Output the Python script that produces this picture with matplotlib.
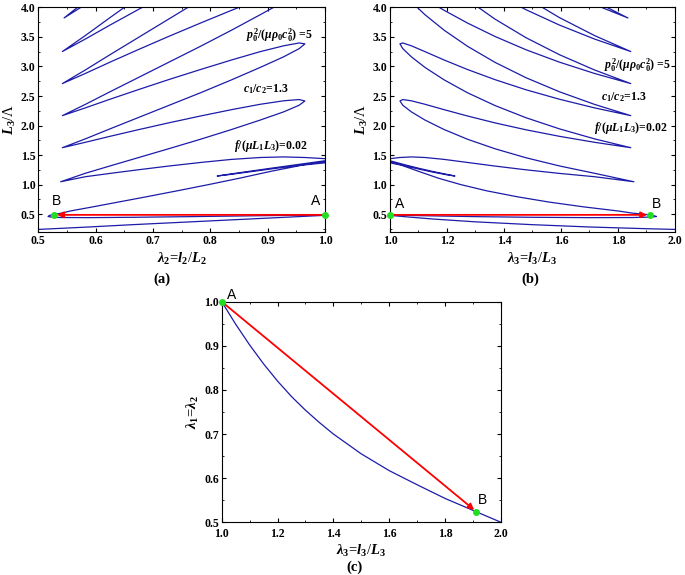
import matplotlib
matplotlib.use('Agg')
import matplotlib.pyplot as plt
from matplotlib.ticker import MultipleLocator

# curve: stretch lam3, matching lam2 and L3/Lambda
lam3 = [2.05, 1.9, 1.7, 1.5, 1.3, 1.15, 1.05, 1.0, 0.985,
        0.985, 1.0, 1.1, 1.3, 1.5, 1.7, 1.85, 1.91, 1.935,
        1.925, 1.912, 1.85, 1.8, 1.68, 1.56, 1.45, 1.34, 1.25, 1.17, 1.1, 1.04, 1.0, 0.985,
        0.985, 1.0, 1.05, 1.1, 1.15, 1.2, 1.228, 1.2, 1.15, 1.1, 1.05, 1.0, 0.985,
        0.985, 1.0, 1.035, 1.075, 1.123, 1.19, 1.272, 1.369, 1.477, 1.595, 1.718, 1.856,
        1.718, 1.595, 1.477, 1.369, 1.272, 1.19, 1.123, 1.075, 1.045, 1.035,
        1.045, 1.075, 1.123, 1.19, 1.272, 1.369, 1.477, 1.595, 1.718, 1.845,
        1.718, 1.595, 1.477, 1.369, 1.272, 1.19, 1.123, 1.075, 1.045, 1.035,
        1.045, 1.075, 1.123, 1.19, 1.272, 1.369, 1.477, 1.595, 1.718, 1.845,
        1.718, 1.595, 1.477, 1.369, 1.272, 1.19, 1.123, 1.075, 1.045,
        1.075, 1.123, 1.19, 1.272, 1.369, 1.477, 1.595, 1.718, 1.845,
        1.718, 1.595, 1.477, 1.369, 1.272,
        1.369, 1.477, 1.595, 1.718, 1.845,
        1.718, 1.595, 1.477,
        1.595, 1.718, 1.835, 1.718]

lam2 = [0.488, 0.527, 0.588, 0.664, 0.765, 0.866, 0.951, 1.0, 1.015,
        1.015, 1.0, 0.906, 0.765, 0.664, 0.588, 0.541, 0.524, 0.517,
        0.519, 0.523, 0.541, 0.556, 0.595, 0.639, 0.687, 0.742, 0.796, 0.851, 0.906, 0.96, 1.0, 1.015,
        1.015, 1.0, 0.951, 0.906, 0.866, 0.83, 0.812, 0.83, 0.866, 0.906, 0.951, 1.0, 1.015,
        1.015, 1.0, 0.965, 0.928, 0.887, 0.837, 0.783, 0.727, 0.674, 0.625, 0.582, 0.539,
        0.582, 0.625, 0.674, 0.727, 0.783, 0.837, 0.887, 0.928, 0.955, 0.965,
        0.955, 0.928, 0.887, 0.837, 0.783, 0.727, 0.674, 0.625, 0.582, 0.542,
        0.582, 0.625, 0.674, 0.727, 0.783, 0.837, 0.887, 0.928, 0.955, 0.965,
        0.955, 0.928, 0.887, 0.837, 0.783, 0.727, 0.674, 0.625, 0.582, 0.542,
        0.582, 0.625, 0.674, 0.727, 0.783, 0.837, 0.887, 0.928, 0.955,
        0.928, 0.887, 0.837, 0.783, 0.727, 0.674, 0.625, 0.582, 0.542,
        0.582, 0.625, 0.674, 0.727, 0.783,
        0.727, 0.674, 0.625, 0.582, 0.542,
        0.582, 0.625, 0.674,
        0.625, 0.582, 0.545, 0.582]

ratio = [0.238, 0.256, 0.285, 0.324, 0.372, 0.42, 0.46, 0.482, 0.488,
         0.492, 0.49, 0.477, 0.46, 0.449, 0.443, 0.445, 0.452, 0.462,
         0.478, 0.49, 0.52, 0.556, 0.625, 0.705, 0.793, 0.896, 1.0, 1.11, 1.227, 1.33, 1.37, 1.38,
         1.385, 1.39, 1.322, 1.266, 1.213, 1.167, 1.147, 1.174, 1.224, 1.279, 1.34, 1.405, 1.42,
         1.43, 1.44, 1.46, 1.47, 1.46, 1.428, 1.376, 1.315, 1.252, 1.191, 1.135, 1.05,
         1.193, 1.317, 1.456, 1.607, 1.769, 1.933, 2.093, 2.232, 2.344, 2.416,
         2.44, 2.419, 2.36, 2.269, 2.162, 2.045, 1.929, 1.818, 1.717, 1.626,
         1.775, 1.944, 2.133, 2.338, 2.555, 2.773, 2.983, 3.163, 3.301, 3.382,
         3.397, 3.349, 3.25, 3.109, 2.948, 2.776, 2.606, 2.445, 2.299, 2.168,
         2.358, 2.571, 2.81, 3.068, 3.341, 3.613, 3.874, 4.093, 4.258,
         4.279, 4.141, 3.949, 3.734, 3.506, 3.283, 3.072, 2.881, 2.71,
         2.94, 3.198, 3.487, 3.799, 4.128,
         4.237, 3.96, 3.699, 3.463, 3.252,
         3.522, 3.825, 4.164,
         4.326, 4.046, 3.82, 4.104]

# panel (c): lam1 = lam2 against lam3
lam3_c = [1.0, 1.05, 1.1, 1.15, 1.2, 1.25, 1.3, 1.35, 1.4, 1.5, 1.6, 1.7, 1.8, 1.9, 2.0]
lam2_c = [1.0, 0.949, 0.902, 0.859, 0.82, 0.785, 0.754, 0.726, 0.70, 0.655, 0.617, 0.585, 0.554, 0.527, 0.5]

# states A and B
point_a = {'a': (1.0, 0.49), 'b': (1.0, 0.49), 'c': (1.0, 1.0)}
point_b = {'a': (0.528, 0.49), 'b': (1.912, 0.49), 'c': (1.912, 0.524)}

notes = [r'$p_0^2/(\mu\rho_0c_0^2)$ =5', r'$c_1/c_2$=1.3', r'$f/(\mu L_1L_3)$=0.02']

plt.rcParams['font.family'] = 'Liberation Serif'
plt.rcParams['font.weight'] = 'bold'
plt.rcParams['mathtext.fontset'] = 'custom'
plt.rcParams['mathtext.rm'] = 'Liberation Serif:bold'
plt.rcParams['mathtext.it'] = 'Liberation Serif:italic:bold'
plt.rcParams['mathtext.bf'] = 'Liberation Serif:bold'
plt.rcParams['xtick.direction'] = 'in'
plt.rcParams['ytick.direction'] = 'in'
plt.rcParams['xtick.top'] = True
plt.rcParams['ytick.right'] = True

blue = '#1c1ca8'
green = '#22dd22'

fig = plt.figure(figsize=(6.85, 5.75), dpi=100)
ax_a = fig.add_axes([0.0559, 0.5965, 0.4185, 0.3908])
ax_b = fig.add_axes([0.5693, 0.5965, 0.416, 0.3908])
ax_c = fig.add_axes([0.3236, 0.0917, 0.4077, 0.3837])


def style(ax, xmaj, ymaj):
    ax.xaxis.set_major_locator(MultipleLocator(xmaj))
    ax.xaxis.set_minor_locator(MultipleLocator(xmaj / 2))
    ax.yaxis.set_major_locator(MultipleLocator(ymaj))
    ax.yaxis.set_minor_locator(MultipleLocator(ymaj / 2))
    ax.xaxis.set_major_formatter('{x:.1f}')
    ax.yaxis.set_major_formatter('{x:.1f}')
    ax.tick_params(which='major', length=3, width=0.8, labelsize=8.5, pad=2)
    ax.tick_params(which='minor', length=1.5, width=0.6)
    for sp in ax.spines.values():
        sp.set_linewidth(0.8)


def arrow(ax, key, textpos_a, textpos_b):
    ax.annotate('', xy=point_b[key], xytext=point_a[key],
                arrowprops=dict(arrowstyle='-|>', color='red', lw=1.3,
                                mutation_scale=9, shrinkA=0, shrinkB=2))
    ax.plot(*point_a[key], 'o', color=green, ms=4, zorder=5, clip_on=False)
    ax.plot(*point_b[key], 'o', color=green, ms=4, zorder=5, clip_on=False)
    ax.text(*textpos_a, 'A', family='Liberation Sans', weight='normal', fontsize=10,
            ha='center', va='bottom')
    ax.text(*textpos_b, 'B', family='Liberation Sans', weight='normal', fontsize=10,
            ha='center', va='bottom')


# (a) L3/Lambda against lam2
ax_a.plot(lam2, ratio, color=blue, lw=0.9)
ax_a.set_xlim(0.5, 1.0)
ax_a.set_ylim(0.2, 4.0)
style(ax_a, 0.1, 0.5)
ax_a.set_xlabel(r'$\lambda_2$=$l_2$/$L_2$', fontsize=10.5, labelpad=3)
ax_a.set_ylabel(r'$L_3$/Λ', fontsize=10.5, labelpad=2)
arrow(ax_a, 'a', (0.983, 0.6), (0.532, 0.6))
ax_a.text(0.92, 3.53, notes[0], fontsize=8.5, ha='center', va='center')
ax_a.text(0.897, 2.62, notes[1], fontsize=8.5, ha='center', va='center')
ax_a.text(0.905, 1.66, notes[2], fontsize=8.5, ha='center', va='center')

# (b) L3/Lambda against lam3
ax_b.plot(lam3, ratio, color=blue, lw=0.9)
ax_b.set_xlim(1.0, 2.0)
ax_b.set_ylim(0.2, 4.0)
style(ax_b, 0.2, 0.5)
ax_b.set_xlabel(r'$\lambda_3$=$l_3$/$L_3$', fontsize=10.5, labelpad=3)
ax_b.set_ylabel(r'$L_3$/Λ', fontsize=10.5, labelpad=2)
arrow(ax_b, 'b', (1.035, 0.55), (1.935, 0.55))
ax_b.text(1.868, 3.02, notes[0], fontsize=8.5, ha='center', va='center')
ax_b.text(1.82, 2.48, notes[1], fontsize=8.5, ha='center', va='center')
ax_b.text(1.845, 1.96, notes[2], fontsize=8.5, ha='center', va='center')

# (c) lam1 = lam2 against lam3
ax_c.plot(lam3_c, lam2_c, color=blue, lw=0.9)
ax_c.set_xlim(1.0, 2.0)
ax_c.set_ylim(0.5, 1.0)
style(ax_c, 0.2, 0.1)
ax_c.tick_params(axis='x', which='major', pad=4)
ax_c.set_xlabel(r'$\lambda_3$=$l_3$/$L_3$', fontsize=10.5, labelpad=2)
ax_c.set_ylabel(r'$\lambda_1$=$\lambda_2$', fontsize=10.5, labelpad=2)
arrow(ax_c, 'c', (1.035, 1.0), (1.935, 0.535))

fig.text(0.237, 0.508, '(a)', ha='center', fontsize=10.5)
fig.text(0.774, 0.508, '(b)', ha='center', fontsize=10.5)
fig.text(0.517, 0.008, '(c)', ha='center', fontsize=10.5)

fig.savefig('out.png', dpi=100)
